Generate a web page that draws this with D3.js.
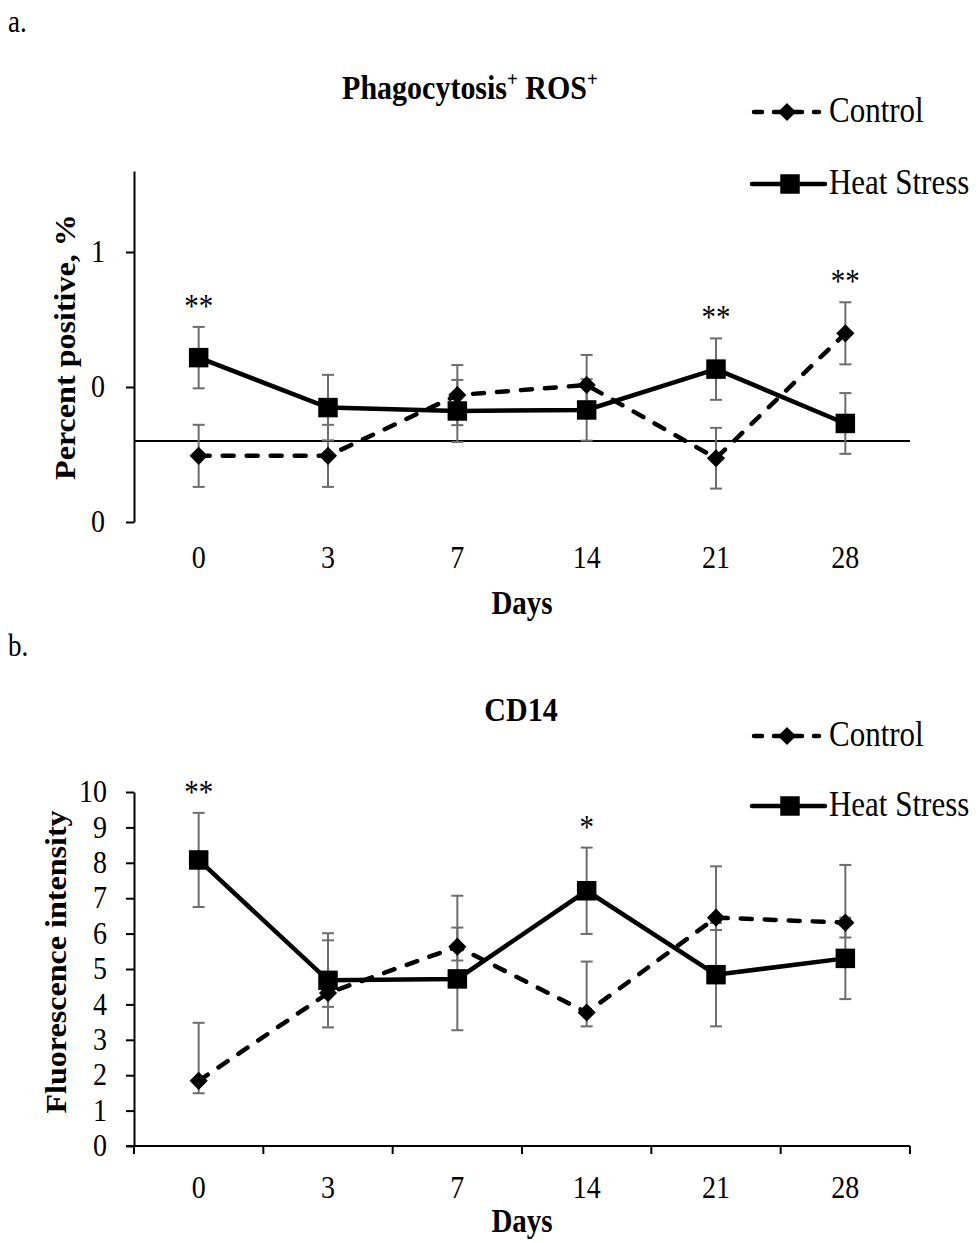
<!DOCTYPE html>
<html>
<head>
<meta charset="utf-8">
<script src="https://cdn.jsdelivr.net/npm/d3@7"></script>
<style>
  html, body { margin: 0; padding: 0; background: #fff; }
  svg { display: block; }
  text { font-family: "Liberation Serif", "Times New Roman", serif; fill: #000; }
</style>
</head>
<body>
<svg id="chart" width="979" height="1243"></svg>
<script>
// Sampling days shared by both panels
const days = ["0", "3", "7", "14", "21", "28"];
const seriesNames = ["Control", "Heat Stress"];

// Panel a: Phagocytosis+ ROS+ (percent positive)
const phagoControl = [0.196, 0.196, 0.376, 0.406, 0.189, 0.559];
const phagoControlSE = [0.092, 0.092, 0.089, 0.089, 0.090, 0.092];
const phagoHeat = [0.487, 0.339, 0.329, 0.332, 0.453, 0.292];
const phagoHeatSE = [0.091, 0.097, 0.092, 0.091, 0.091, 0.090];
const phagoTicks = [0, 0.4, 0.8];
const phagoAxisMax = 1.04;
const phagoCross = 0.24;
const phagoSig = ["**", "", "", "", "**", "**"];

// Panel b: CD14 fluorescence intensity
const cd14Control = [1.84, 4.32, 5.63, 3.77, 6.45, 6.31];
const cd14ControlUp = [1.64, 1.49, 1.44, 1.44, 1.45, 1.63];
const cd14ControlDown = [0.35, 0.39, 0.39, 0.39, 0.35, 0.42];
const cd14Heat = [8.08, 4.68, 4.72, 7.21, 4.84, 5.30];
const cd14HeatSE = [1.33, 1.33, 1.45, 1.22, 1.46, 1.15];
const cd14Ticks = [0, 1, 2, 3, 4, 5, 6, 7, 8, 9, 10];
const cd14Sig = ["**", "", "", "*", "", ""];

const svg = d3.select("#chart");
const FONT = "Liberation Serif, Times New Roman, serif";
const STRETCH = 1.15; // glyphs are drawn slightly taller than wide

const x = d3.scaleBand().domain(days).range([134, 910]);
const cx = d => x(d) + x.bandwidth() / 2;

const diamond = d3.symbol().type(d3.symbolDiamond2).size(210);
const square = d3.symbol().type(d3.symbolSquare).size(380);

function drawErrors(g, y, vals, up, down) {
  const pts = days.map((d, i) => ({ d, v: vals[i], hi: vals[i] + up[i], lo: vals[i] - down[i] }));
  const eb = g.append("g").attr("stroke", "#6d6d6d").attr("stroke-width", 2);
  pts.forEach(p => {
    eb.append("line").attr("x1", cx(p.d)).attr("x2", cx(p.d)).attr("y1", y(p.hi)).attr("y2", y(p.lo));
    eb.append("line").attr("x1", cx(p.d) - 6).attr("x2", cx(p.d) + 6).attr("y1", y(p.hi)).attr("y2", y(p.hi));
    eb.append("line").attr("x1", cx(p.d) - 6).attr("x2", cx(p.d) + 6).attr("y1", y(p.lo)).attr("y2", y(p.lo));
  });
  return pts;
}

function drawLineAndMarkers(g, y, pts, dashed, marker) {
  const line = d3.line().x(p => cx(p.d)).y(p => y(p.v));
  g.append("path").datum(pts)
    .attr("d", line).attr("fill", "none").attr("stroke", "#000")
    .attr("stroke-width", 4.5)
    .attr("stroke-linecap", dashed ? "round" : "butt")
    .attr("stroke-dasharray", dashed ? "11,13" : null);
  g.selectAll(null).data(pts).enter().append("path")
    .attr("d", marker)
    .attr("transform", p => `translate(${cx(p.d)},${y(p.v)})`)
    .attr("fill", "#000");
}

function legend(g, yControl, yHeat) {
  const l = g.append("g");
  l.append("line").attr("x1", 754).attr("x2", 819).attr("y1", yControl).attr("y2", yControl)
    .attr("stroke", "#000").attr("stroke-width", 4.5).attr("stroke-linecap", "round")
    .attr("stroke-dasharray", "8,12");
  l.append("path").attr("d", diamond).attr("transform", `translate(787,${yControl})`);
  l.append("text").attr("x", 829).attr("y", yControl + 10).attr("font-size", 31).text(seriesNames[0]);
  l.append("line").attr("x1", 752).attr("x2", 825).attr("y1", yHeat).attr("y2", yHeat)
    .attr("stroke", "#000").attr("stroke-width", 4.5).attr("stroke-linecap", "round");
  l.append("path").attr("d", square).attr("transform", `translate(790,${yHeat})`);
  l.append("text").attr("x", 829).attr("y", yHeat + 10).attr("font-size", 31).text(seriesNames[1]);
}

function xLabels(g, baseline, titleBaseline) {
  g.append("g").selectAll("text").data(days).enter().append("text")
    .attr("x", d => cx(d)).attr("y", baseline).attr("text-anchor", "middle")
    .attr("font-size", 28).text(d => d);
  g.append("text").attr("x", 522).attr("y", titleBaseline).attr("text-anchor", "middle")
    .attr("font-size", 29).attr("font-weight", "bold").text("Days");
}

function sigMarks(g, y, sig, tops) {
  g.append("g").selectAll("text").data(days).enter().append("text")
    .attr("x", d => cx(d)).attr("y", (d, i) => y(tops[i]) - 10)
    .attr("text-anchor", "middle").attr("font-size", 29)
    .text((d, i) => sig[i]);
}

function styleYAxis(ya, dx) {
  ya.select(".domain").attr("stroke-width", 2);
  ya.selectAll(".tick line").attr("stroke-width", 2);
  ya.selectAll(".tick text").attr("font-family", FONT).attr("font-size", 28)
    .attr("x", dx).attr("dy", "0.3em").classed("tick-label", true);
}

// ---------- Panel a ----------
{
  const g = svg.append("g");
  g.append("text").attr("x", 8).attr("y", 32).attr("font-size", 27).text("a.");
  const title = g.append("text").attr("x", 470).attr("y", 99).attr("text-anchor", "middle")
    .attr("font-size", 30).attr("font-weight", "bold");
  title.append("tspan").text("Phagocytosis");
  title.append("tspan").attr("font-size", 19).attr("dy", -11).text("+");
  title.append("tspan").attr("dy", 11).text(" ROS");
  title.append("tspan").attr("font-size", 19).attr("dy", -11).text("+");

  const y = d3.scaleLinear().domain([0, phagoAxisMax]).range([522, 171]);
  const yAxis = d3.axisLeft(y).tickValues(phagoTicks).tickFormat(d3.format(".0f"))
    .tickSize(8).tickSizeOuter(0);
  const ya = g.append("g").attr("transform", "translate(134,0)").call(yAxis);
  styleYAxis(ya, -29);

  // horizontal axis line crossing the value axis
  g.append("line").attr("x1", 134).attr("x2", 910).attr("y1", y(phagoCross)).attr("y2", y(phagoCross))
    .attr("stroke", "#000").attr("stroke-width", 2);

  g.append("text").attr("class", "rot")
    .attr("transform", `translate(75,347) rotate(-90) scale(1.07,1)`).attr("text-anchor", "middle")
    .attr("font-size", 30).attr("font-weight", "bold").text("Percent positive, %");

  const pc = drawErrors(g, y, phagoControl, phagoControlSE, phagoControlSE);
  const ph = drawErrors(g, y, phagoHeat, phagoHeatSE, phagoHeatSE);
  drawLineAndMarkers(g, y, pc, true, diamond);
  drawLineAndMarkers(g, y, ph, false, square);

  const tops = days.map((d, i) => Math.max(pc[i].hi, ph[i].hi));
  sigMarks(g, y, phagoSig, tops);
  legend(g, 112, 184);
  xLabels(g, 568, 614);
}

// ---------- Panel b ----------
{
  const g = svg.append("g");
  g.append("text").attr("x", 8).attr("y", 656).attr("font-size", 27).text("b.");
  g.append("text").attr("x", 521).attr("y", 721).attr("text-anchor", "middle")
    .attr("font-size", 30).attr("font-weight", "bold").text("CD14");

  const y = d3.scaleLinear().domain([0, 10]).range([1146, 792]);
  const yAxis = d3.axisLeft(y).tickValues(cd14Ticks).tickFormat(d3.format("d"))
    .tickSize(8).tickSizeOuter(0);
  const ya = g.append("g").attr("transform", "translate(134,0)").call(yAxis);
  styleYAxis(ya, -27);

  // category axis with ticks between categories
  const xa = g.append("g");
  xa.append("line").attr("x1", 126).attr("x2", 910).attr("y1", y(0)).attr("y2", y(0))
    .attr("stroke", "#000").attr("stroke-width", 2);
  const bounds = days.map(d => x(d)).concat([x.range()[1]]);
  xa.selectAll(null).data(bounds).enter().append("line")
    .attr("x1", d => d).attr("x2", d => d).attr("y1", y(0)).attr("y2", y(0) + 8)
    .attr("stroke", "#000").attr("stroke-width", 2);

  g.append("text").attr("class", "rot")
    .attr("transform", `translate(66,962) rotate(-90) scale(1.07,1)`).attr("text-anchor", "middle")
    .attr("font-size", 30).attr("font-weight", "bold").text("Fluorescence intensity");

  const bc = drawErrors(g, y, cd14Control, cd14ControlUp, cd14ControlDown);
  const bh = drawErrors(g, y, cd14Heat, cd14HeatSE, cd14HeatSE);
  drawLineAndMarkers(g, y, bc, true, diamond);
  drawLineAndMarkers(g, y, bh, false, square);

  const tops = days.map((d, i) => Math.max(bc[i].hi, bh[i].hi));
  sigMarks(g, y, cd14Sig, tops);
  legend(g, 736, 806);
  xLabels(g, 1198, 1232);
}

// Stretch glyphs vertically about their baseline
svg.selectAll("text").each(function () {
  const t = d3.select(this);
  if (t.classed("rot")) return;
  if (t.classed("tick-label")) {
    t.attr("transform", `scale(1,${STRETCH})`);
    return;
  }
  const by = +t.attr("y") || 0;
  t.attr("transform", `translate(0,${by}) scale(1,${STRETCH}) translate(0,${-by})`);
});
</script>
</body>
</html>
